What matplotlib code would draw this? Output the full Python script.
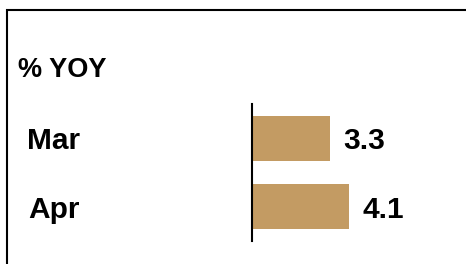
import matplotlib
matplotlib.use("Agg")
import matplotlib.pyplot as plt
from matplotlib.patches import Rectangle

months = ["Mar", "Apr"]
yoy = [3.3, 4.1]
title = "% YOY"

BAR_COLOR = "#C39B63"
FONT = "Liberation Sans"
FS = 21.5

W, H = 466, 264
fig = plt.figure(figsize=(W / 100, H / 100), dpi=100)

# axes placed so that x=0 sits on the vertical line in the reference
ax = fig.add_axes([252 / W, 23 / H, 200 / W, 137 / H])
ypos = list(range(len(months)))
bars = ax.barh(ypos, yoy, height=0.66, color=BAR_COLOR)
ax.set_xlim(0, 200 / 23.6)
ax.set_ylim(1.5, -0.5)

for s in ["top", "right", "bottom"]:
    ax.spines[s].set_visible(False)
ax.spines["left"].set_linewidth(1.5)
ax.spines["left"].set_color("black")
ax.set_xticks([])
ax.set_yticks(ypos)
ax.set_yticklabels(months, fontfamily=FONT, fontweight="bold", fontsize=FS)
ax.tick_params(axis="y", length=0, pad=124)

for b, v in zip(bars, yoy):
    ax.annotate(f"{v:.1f}", (b.get_width(), b.get_y() + b.get_height() / 2),
                xytext=(10, -2), textcoords="offset points", va="center",
                ha="left", fontfamily=FONT, fontweight="bold", fontsize=FS)

fig.text(18 / W, 1 - 70 / H, title, ha="left", va="center",
         fontfamily=FONT, fontweight="bold", fontsize=19.5)

# frame around the chart (runs off the right/bottom edges)
fig.patches.append(Rectangle((7 / W, -0.1), 1.2, 1.1 - 10 / H,
                             transform=fig.transFigure, fill=False,
                             edgecolor="black", linewidth=1.5))

fig.savefig("out.png", dpi=100)
